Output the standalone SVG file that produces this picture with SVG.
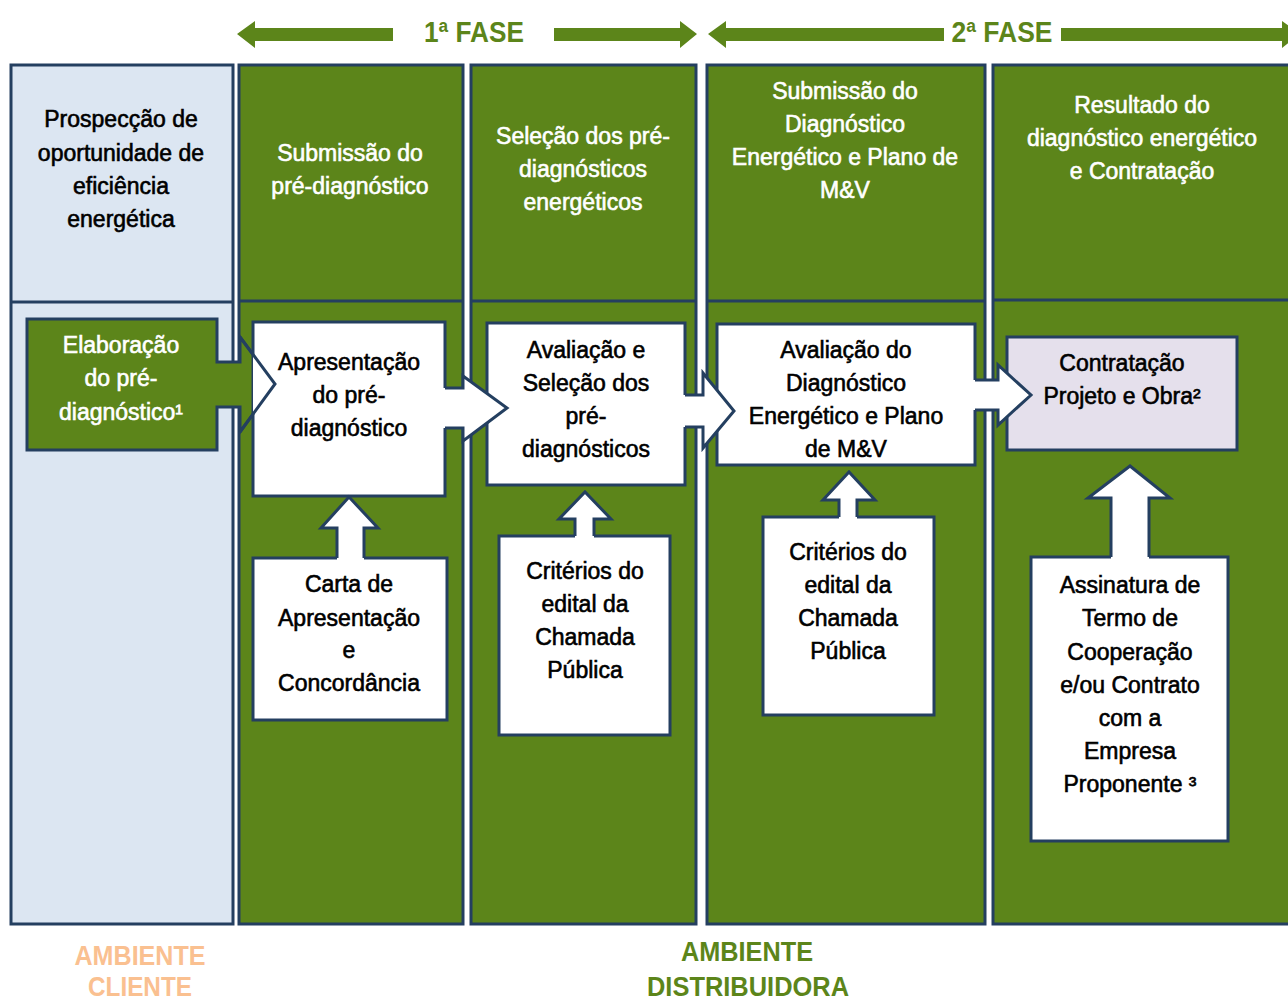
<svg xmlns="http://www.w3.org/2000/svg" width="1288" height="1003" viewBox="0 0 1288 1003">
<style>
.col{stroke:#243f60;stroke-width:3}
.g{fill:#5c851a}
.lb{fill:#dce6f2}
.div{stroke:#243f60;stroke-width:3}
.box{fill:#ffffff;stroke:#243f60;stroke-width:3}
.lav{fill:#e5e0ec;stroke:#243f60;stroke-width:3}
.af{fill:#ffffff;stroke:none}
.ao{fill:none;stroke:#243f60;stroke-width:3;stroke-linejoin:miter}
text{font-family:"Liberation Sans",Arial,sans-serif;font-size:23px;text-anchor:middle;stroke-width:0.6px}
.w{fill:#ffffff;stroke:#ffffff}
.k{fill:#000000;stroke:#000000}
.fase{font-family:"Liberation Sans Narrow","Liberation Sans",Arial,sans-serif;font-weight:bold;font-size:29px;fill:#5c851a;stroke:none}
.amb{font-family:"Liberation Sans Narrow","Liberation Sans",Arial,sans-serif;font-weight:bold;font-size:27px;stroke:none}
</style>
<rect width="1288" height="1003" fill="#ffffff"/>

<g id="phase-arrows">
<polygon class="g" points="237,34 255,21 255,28 393,28 393,41 255,41 255,48"/>
<polygon class="g" points="554,28 680,28 680,21 697,34 680,48 680,41 554,41"/>
<text class="fase" x="474" y="42" textLength="100" lengthAdjust="spacingAndGlyphs">1ª FASE</text>
<polygon class="g" points="708,34 726,21 726,28 944,28 944,41 726,41 726,48"/>
<polygon class="g" points="1061,28 1282,28 1282,21 1300,34 1282,48 1282,41 1061,41"/>
<text class="fase" x="1002" y="42" textLength="101" lengthAdjust="spacingAndGlyphs">2ª FASE</text>
</g>

<g id="columns">
<rect class="col lb" x="11" y="65" width="222" height="859"/>
<rect class="col g" x="239" y="65" width="224" height="859"/>
<rect class="col g" x="471" y="65" width="225" height="859"/>
<rect class="col g" x="707" y="65" width="278" height="859"/>
<rect class="col g" x="993" y="65" width="310" height="859"/>
<line class="div" x1="11" y1="302" x2="233" y2="302"/>
<line class="div" x1="239" y1="301" x2="463" y2="301"/>
<line class="div" x1="471" y1="301" x2="696" y2="301"/>
<line class="div" x1="707" y1="301" x2="985" y2="301"/>
<line class="div" x1="993" y1="300" x2="1288" y2="300"/>
</g>

<g id="headers">
<text class="k" x="121" y="127">Prospecção de</text>
<text class="k" x="121" y="161">oportunidade de</text>
<text class="k" x="121" y="194">eficiência</text>
<text class="k" x="121" y="227">energética</text>
<text class="w" x="350" y="161">Submissão do</text>
<text class="w" x="350" y="194">pré-diagnóstico</text>
<text class="w" x="583" y="144">Seleção dos pré-</text>
<text class="w" x="583" y="177">diagnósticos</text>
<text class="w" x="583" y="210">energéticos</text>
<text class="w" x="845" y="99">Submissão do</text>
<text class="w" x="845" y="132">Diagnóstico</text>
<text class="w" x="845" y="165">Energético e Plano de</text>
<text class="w" x="845" y="198">M&amp;V</text>
<text class="w" x="1142" y="113">Resultado do</text>
<text class="w" x="1142" y="146">diagnóstico energético</text>
<text class="w" x="1142" y="179">e Contratação</text>
</g>

<g id="node-elaboracao">
<polygon class="col g" points="27,319 217,319 217,362 240,362 240,337 275,384 240,432 240,407 217,407 217,450 27,450"/>
</g>

<g id="node-apresentacao">
<rect class="box" x="253" y="322" width="192" height="174"/>
</g>
<g id="node-avaliacao-selecao">
<rect class="box" x="487" y="323" width="198" height="162"/>
</g>
<g id="node-avaliacao-diagnostico">
<rect class="box" x="717" y="324" width="258" height="141"/>
</g>
<g id="node-contratacao">
<rect class="lav" x="1007" y="337" width="230" height="113"/>
</g>
<g id="node-carta">
<rect class="box" x="253" y="558" width="194" height="162"/>
</g>
<g id="node-criterios-1">
<rect class="box" x="499" y="536" width="171" height="199"/>
</g>
<g id="node-criterios-2">
<rect class="box" x="763" y="517" width="171" height="198"/>
</g>
<g id="node-assinatura">
<rect class="box" x="1031" y="557" width="197" height="284"/>
</g>

<g id="connectors">
<polygon class="af" points="253,354.5 275,384 253,414.2"/>
<polyline class="ao" points="240,337 275,384 240,432"/>

<polygon class="af" points="443,388 463,388 463,376 507,408 463,441 463,428 443,428"/>
<polyline class="ao" points="445,388 463,388 463,376 507,408 463,441 463,428 445,428"/>

<polygon class="af" points="683,395 703,395 703,373 734,411 703,448 703,427 683,427"/>
<polyline class="ao" points="685,395 703,395 703,373 734,411 703,448 703,427 685,427"/>

<polygon class="af" points="973,380 998,380 998,365 1031,395 998,425 998,410 973,410"/>
<polyline class="ao" points="975,380 998,380 998,365 1031,395 998,425 998,410 975,410"/>

<polygon class="af" points="337,560 337,528 321,528 349,497 378,528 364,528 364,560"/>
<polyline class="ao" points="337,558 337,528 321,528 349,497 378,528 364,528 364,558"/>

<polygon class="af" points="575,538 575,519 559,519 585,492 611,519 594,519 594,538"/>
<polyline class="ao" points="575,536 575,519 559,519 585,492 611,519 594,519 594,536"/>

<polygon class="af" points="839,519 839,500 823,500 849,472 875,500 857,500 857,519"/>
<polyline class="ao" points="839,517 839,500 823,500 849,472 875,500 857,500 857,517"/>

<polygon class="af" points="1111,559 1111,498 1088,498 1130,466 1170,498 1149,498 1149,559"/>
<polyline class="ao" points="1111,557 1111,498 1088,498 1130,466 1170,498 1149,498 1149,557"/>
</g>

<g id="labels">
<text class="w" x="121" y="353">Elaboração</text>
<text class="w" x="121" y="386">do pré-</text>
<text class="w" x="121" y="420">diagnóstico¹</text>
<text class="k" x="349" y="370">Apresentação</text>
<text class="k" x="349" y="403">do pré-</text>
<text class="k" x="349" y="436">diagnóstico</text>
<text class="k" x="586" y="358">Avaliação e</text>
<text class="k" x="586" y="391">Seleção dos</text>
<text class="k" x="586" y="424">pré-</text>
<text class="k" x="586" y="457">diagnósticos</text>
<text class="k" x="846" y="358">Avaliação do</text>
<text class="k" x="846" y="391">Diagnóstico</text>
<text class="k" x="846" y="424">Energético e Plano</text>
<text class="k" x="846" y="457">de M&amp;V</text>
<text class="k" x="1122" y="371">Contratação</text>
<text class="k" x="1122" y="404">Projeto e Obra²</text>
<text class="k" x="349" y="592">Carta de</text>
<text class="k" x="349" y="626">Apresentação</text>
<text class="k" x="349" y="658">e</text>
<text class="k" x="349" y="691">Concordância</text>
<text class="k" x="585" y="579">Critérios do</text>
<text class="k" x="585" y="612">edital da</text>
<text class="k" x="585" y="645">Chamada</text>
<text class="k" x="585" y="678">Pública</text>
<text class="k" x="848" y="560">Critérios do</text>
<text class="k" x="848" y="593">edital da</text>
<text class="k" x="848" y="626">Chamada</text>
<text class="k" x="848" y="659">Pública</text>
<text class="k" x="1130" y="593">Assinatura de</text>
<text class="k" x="1130" y="626">Termo de</text>
<text class="k" x="1130" y="660">Cooperação</text>
<text class="k" x="1130" y="693">e/ou Contrato</text>
<text class="k" x="1130" y="726">com a</text>
<text class="k" x="1130" y="759">Empresa</text>
<text class="k" x="1130" y="792">Proponente ³</text>
</g>

<g id="environment-labels">
<text class="amb" x="140" y="965" fill="#fac090" textLength="131" lengthAdjust="spacingAndGlyphs">AMBIENTE</text>
<text class="amb" x="140" y="996" fill="#fac090" textLength="104" lengthAdjust="spacingAndGlyphs">CLIENTE</text>
<text class="amb" x="747" y="961" fill="#5c851a" textLength="132" lengthAdjust="spacingAndGlyphs">AMBIENTE</text>
<text class="amb" x="748" y="996" fill="#5c851a" textLength="202" lengthAdjust="spacingAndGlyphs">DISTRIBUIDORA</text>
</g>
</svg>
